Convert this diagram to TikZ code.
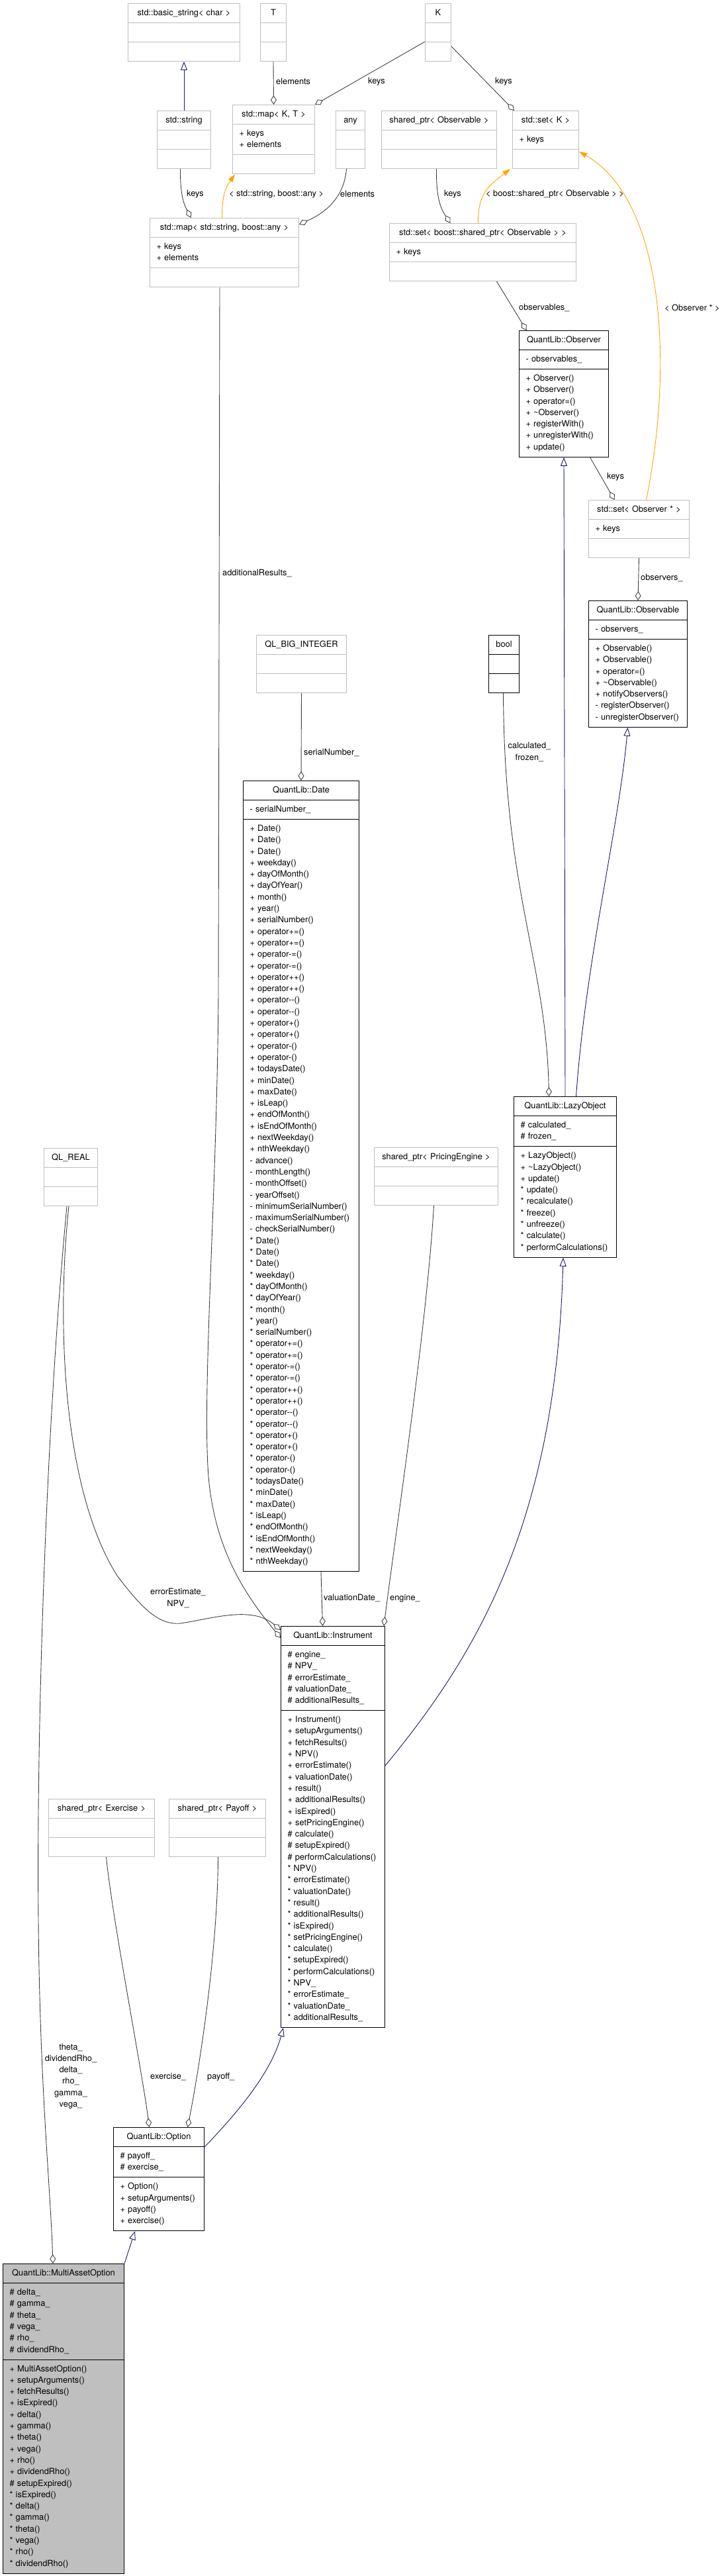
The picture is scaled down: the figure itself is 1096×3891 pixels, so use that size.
\documentclass[tikz,border=0pt]{standalone}
\usepackage{fontspec}
\setmainfont{TeX Gyre Heros}
\usepackage{tikz}
\usetikzlibrary{arrows.meta, shapes.multipart}
\definecolor{ExtGray}{HTML}{BFBFBF}
\definecolor{EdgeGray}{HTML}{404040}
\definecolor{BaseNavy}{HTML}{191970}
\definecolor{TmplOrange}{HTML}{FFA500}
\definecolor{MultiFill}{HTML}{BFBFBF}
\newcommand{\classfont}{\fontsize{12.8}{17.3}\selectfont}
\newcommand{\clsname}[1]{\makebox[\linewidth]{\strut #1}}
\newcommand{\members}[1]{\raggedright\foreach \m in {#1}{\strut\m\par}}
\newcommand{\dblminus}{-\kern0pt-}

\begin{document}
\begin{tikzpicture}[
    x=1pt, y=-1pt,
    extclass/.style={
        rectangle split, rectangle split parts=3, draw=ExtGray, line width=1pt,
        inner xsep=10pt, inner ysep=5.35pt, anchor=north west, font=\classfont
    },
    docclass/.style={
        extclass, draw=black
    },
    aggr/.style={
        draw=EdgeGray, line width=0.9pt, -{Diamond[length=14pt, width=9pt, fill=white]}
    },
    inherit/.style={
        draw=BaseNavy, line width=0.9pt, -{Triangle[length=13pt, width=10pt, fill=white]}
    },
    templ/.style={
        draw=TmplOrange, line width=0.9pt, -{Triangle[length=12pt, width=8pt]}
    },
    lbl/.style={
        font=\classfont, inner sep=0pt
    }
]
    \useasboundingbox (0,0) rectangle (1096,3891);

    % Templates and std types
    \node[extclass, text width=149pt] (basicstring) at (193,5) {\clsname{std::basic\_string< char >}\nodepart{two}\strut\nodepart{three}\strut};
    \node[extclass, text width=19pt] (templT) at (393,5) {\clsname{T}\nodepart{two}\strut\nodepart{three}\strut};
    \node[extclass, text width=19pt] (templK) at (642,5) {\clsname{K}\nodepart{two}\strut\nodepart{three}\strut};

    \node[extclass, text width=61pt] (stdstring) at (237,167) {\clsname{std::string}\nodepart{two}\strut\nodepart{three}\strut};
    \node[extclass, text width=104pt] (mapkt) at (351,158) {\clsname{std::map< K, T >}\nodepart{two}\members{+ keys, + elements}\nodepart{three}\strut};
    \node[extclass, text width=24pt] (anytype) at (507,167) {\clsname{any}\nodepart{two}\strut\nodepart{three}\strut};
    \node[extclass, text width=154pt] (ptrobservable) at (576,167) {\clsname{shared\_ptr< Observable >}\nodepart{two}\strut\nodepart{three}\strut};
    \node[extclass, text width=80pt] (setk) at (774,167) {\clsname{std::set< K >}\nodepart{two}\members{+ keys}\nodepart{three}\strut};

    \node[extclass, text width=205pt] (mapstringany) at (226,329) {\clsname{std::map< std::string, boost::any >}\nodepart{two}\members{+ keys, + elements}\nodepart{three}\strut};
    \node[extclass, text width=262pt] (setptrobs) at (588,337) {\clsname{std::set< boost::shared\_ptr< Observable > >}\nodepart{two}\members{+ keys}\nodepart{three}\strut};

    % Observer pattern
    \node[docclass, text width=115pt] (observer) at (784,499) {\clsname{QuantLib::Observer}\nodepart{two}\members{- observables\_}\nodepart{three}\members{+ Observer(), + Observer(), + operator=(), + \textasciitilde Observer(), + registerWith(), + unregisterWith(), + update()}};
    \node[extclass, text width=132pt] (setobserver) at (889,755) {\clsname{std::set< Observer * >}\nodepart{two}\members{+ keys}\nodepart{three}\strut};
    \node[docclass, text width=129pt] (observable) at (889,907) {\clsname{QuantLib::Observable}\nodepart{two}\members{- observers\_}\nodepart{three}\members{+ Observable(), + Observable(), + operator=(), + \textasciitilde Observable(), + notifyObservers(), - registerObserver(), - unregisterObserver()}};

    \node[extclass, text width=116pt] (biginteger) at (387,959) {\clsname{QL\_BIG\_INTEGER}\nodepart{two}\strut\nodepart{three}\strut};
    \node[docclass, text width=26pt] (booltype) at (738,959) {\clsname{bool}\nodepart{two}\strut\nodepart{three}\strut};

    % Date
    \node[docclass, text width=155pt] (date) at (367,1179) {\clsname{QuantLib::Date}\nodepart{two}\members{- serialNumber\_}\nodepart{three}\members{
        + Date(), + Date(), + Date(), + weekday(), + dayOfMonth(), + dayOfYear(), + month(), + year(), + serialNumber(),
        + operator+=(), + operator+=(), + operator-=(), + operator-=(), + operator++(), + operator++(),
        + operator\dblminus(), + operator\dblminus(), + operator+(), + operator+(), + operator-(), + operator-(),
        + todaysDate(), + minDate(), + maxDate(), + isLeap(), + endOfMonth(), + isEndOfMonth(), + nextWeekday(), + nthWeekday(),
        - advance(), - monthLength(), - monthOffset(), - yearOffset(), - minimumSerialNumber(), - maximumSerialNumber(), - checkSerialNumber(),
        * Date(), * Date(), * Date(), * weekday(), * dayOfMonth(), * dayOfYear(), * month(), * year(), * serialNumber(),
        * operator+=(), * operator+=(), * operator-=(), * operator-=(), * operator++(), * operator++(),
        * operator\dblminus(), * operator\dblminus(), * operator+(), * operator+(), * operator-(), * operator-(),
        * todaysDate(), * minDate(), * maxDate(), * isLeap(), * endOfMonth(), * isEndOfMonth(), * nextWeekday(), * nthWeekday()}};

    \node[docclass, text width=135pt] (lazyobject) at (776,1656) {\clsname{QuantLib::LazyObject}\nodepart{two}\members{\# calculated\_, \# frozen\_}\nodepart{three}\members{+ LazyObject(), + \textasciitilde LazyObject(), + update(), * update(), * recalculate(), * freeze(), * unfreeze(), * calculate(), * performCalculations()}};

    \node[extclass, text width=61pt] (qlreal) at (66,1734) {\clsname{QL\_REAL}\nodepart{two}\strut\nodepart{three}\strut};
    \node[extclass, text width=167pt] (ptrengine) at (565,1733) {\clsname{shared\_ptr< PricingEngine >}\nodepart{two}\strut\nodepart{three}\strut};

    % Instrument and options
    \node[docclass, text width=137pt] (instrument) at (424,2456) {\clsname{QuantLib::Instrument}\nodepart{two}\members{\# engine\_, \# NPV\_, \# errorEstimate\_, \# valuationDate\_, \# additionalResults\_}\nodepart{three}\members{
        + Instrument(), + setupArguments(), + fetchResults(), + NPV(), + errorEstimate(), + valuationDate(), + result(), + additionalResults(), + isExpired(), + setPricingEngine(),
        \# calculate(), \# setupExpired(), \# performCalculations(),
        * NPV(), * errorEstimate(), * valuationDate(), * result(), * additionalResults(), * isExpired(), * setPricingEngine(), * calculate(), * setupExpired(), * performCalculations(),
        * NPV\_, * errorEstimate\_, * valuationDate\_, * additionalResults\_}};

    \node[extclass, text width=140pt] (ptrexercise) at (73,2717) {\clsname{shared\_ptr< Exercise >}\nodepart{two}\strut\nodepart{three}\strut};
    \node[extclass, text width=126pt] (ptrpayoff) at (255,2717) {\clsname{shared\_ptr< Payoff >}\nodepart{two}\strut\nodepart{three}\strut};

    \node[docclass, text width=117pt] (option) at (171,3213) {\clsname{QuantLib::Option}\nodepart{two}\members{\# payoff\_, \# exercise\_}\nodepart{three}\members{+ Option(), + setupArguments(), + payoff(), + exercise()}};

    \node[docclass, fill=MultiFill, text width=163pt] (multiasset) at (4,3419) {\clsname{QuantLib::MultiAssetOption}\nodepart{two}\members{\# delta\_, \# gamma\_, \# theta\_, \# vega\_, \# rho\_, \# dividendRho\_}\nodepart{three}\members{
        + MultiAssetOption(), + setupArguments(), + fetchResults(), + isExpired(), + delta(), + gamma(), + theta(), + vega(), + rho(), + dividendRho(),
        \# setupExpired(), * isExpired(), * delta(), * gamma(), * theta(), * vega(), * rho(), * dividendRho()}};

    % Inheritance
    \draw[inherit] (stdstring.north) -- (basicstring.south);
    \draw[inherit] (lazyobject.north) -- (observer.south);
    \draw[inherit] ([xshift=16.5pt]lazyobject.north) .. controls (885,1450) and (935,1250) .. ([xshift=-15.5pt]observable.south);
    \draw[inherit] ([yshift=-211pt]instrument.north east) .. controls (720,2500) and (840,2300) .. ([xshift=-3pt]lazyobject.south);
    \draw[inherit] ([yshift=-30pt]option.north east) .. controls (360,3190) and (410,3130) .. ([xshift=4pt]instrument.south west);
    \draw[inherit] (multiasset.north east) -- ([xshift=33pt]option.south west);

    % Template instances
    \draw[templ] ([xshift=-3.5pt]mapstringany.north) .. controls (335,285) and (347,275) .. ([xshift=4pt]mapkt.south west);
    \draw[templ] ([xshift=-7pt]setptrobs.north) .. controls (722,290) and (740,280) .. ([xshift=-3pt]setk.south west);
    \draw[templ] ([xshift=11pt]setobserver.north) .. controls (1020,540) and (1000,300) .. ([yshift=26pt]setk.south east);

    % Members
    \draw[aggr] (templT.south) -- (mapkt.north);
    \draw[aggr] ([yshift=-14pt]templK.west) -- (mapkt.north east);
    \draw[aggr] ([yshift=-21pt]templK.east) -- ([xshift=3pt]setk.north west);
    \draw[aggr] ([xshift=-5.5pt]stdstring.south) .. controls (272,300) and (280,312) .. ([xshift=-50.5pt]mapstringany.north);
    \draw[aggr] ([xshift=-6pt]anytype.south) .. controls (520,300) and (490,322) .. ([yshift=-10pt]mapstringany.north east);
    \draw[aggr] ([xshift=-4pt]ptrobservable.south) .. controls (659,300) and (666,315) .. ([xshift=-49pt]setptrobs.north);
    \draw[aggr] ([xshift=21pt]setptrobs.south) -- ([xshift=-56.5pt]observer.north);
    \draw[aggr] ([xshift=39.5pt]observer.south) -- ([xshift=-37pt]setobserver.north);
    \draw[aggr] (setobserver.south) -- (observable.north);
    \draw[aggr] ([xshift=-1pt]booltype.south) .. controls (762,1350) and (825,1450) .. ([xshift=-24.5pt]lazyobject.north);
    \draw[aggr] (biginteger.south) -- (date.north);
    \draw[aggr] ([xshift=-7pt]mapstringany.south) -- (330,1500) .. controls (328,1800) and (305,2100) .. (315,2230) .. controls (325,2350) and (380,2420) .. ([yshift=-18pt]instrument.north west);
    \draw[aggr] ([xshift=-3pt]qlreal.south) .. controls (85,2000) and (95,2250) .. (177,2380) .. controls (215,2430) and (240,2455) .. (273,2452) .. controls (320,2445) and (380,2425) .. ([yshift=-6pt]instrument.north west);
    \draw[aggr] ([xshift=-6pt]qlreal.south) .. controls (70,2150) and (55,2600) .. (58,2900) .. controls (60,3150) and (76,3300) .. ([xshift=-16pt]multiasset.north);
    \draw[aggr] ([xshift=30pt]date.south) -- ([xshift=-15.5pt]instrument.north);
    \draw[aggr] ([xshift=-3.5pt]ptrengine.south) .. controls (645,2000) and (600,2300) .. ([xshift=-2pt]instrument.north east);
    \draw[aggr] ([xshift=7pt]ptrexercise.south) .. controls (170,2900) and (215,3130) .. ([xshift=-14.5pt]option.north);
    \draw[aggr] ([xshift=1pt]ptrpayoff.south) .. controls (329,2950) and (300,3130) .. ([xshift=43.5pt]option.north);

    % Labels
    \node[lbl, anchor=west] (lbtelements) at (417,123) {elements};
    \node[lbl] (lbkmap) at (569,123) {keys};
    \node[lbl] (lbkset) at (761,123) {keys};
    \node[lbl, anchor=west] (lbstringkeys) at (282,293) {keys};
    \node[lbl, anchor=west] (lbmapinst) at (346,293) {< std::string, boost::any >};
    \node[lbl, anchor=west] (lbanyelements) at (514,293) {elements};
    \node[lbl, anchor=west] (lbptrkeys) at (671,293) {keys};
    \node[lbl, anchor=west] (lbsetinst) at (734,293) {< boost::shared\_ptr< Observable > >};
    \node[lbl, anchor=west] (lbobservables) at (784,465) {observables\_};
    \node[lbl, anchor=west] (lbobserverinst) at (1004,465) {< Observer * >};
    \node[lbl, anchor=west] (lbsetkeys) at (917,720) {keys};
    \node[lbl, anchor=west] (lbobservers) at (968,873) {observers\_};
    \node[lbl, anchor=west] (lbaddresults) at (336,866) {additionalResults\_};
    \node[lbl, align=center] (lbcalculated) at (800,1136) {calculated\_\\frozen\_};
    \node[lbl, anchor=west] (lbserial) at (459,1137) {serialNumber\_};
    \node[lbl, align=center] (lberrornpv) at (269,2414) {errorEstimate\_\\NPV\_};
    \node[lbl, anchor=west] (lbvaluation) at (489,2414) {valuationDate\_};
    \node[lbl, anchor=west] (lbengine) at (589,2414) {engine\_};
    \node[lbl, anchor=west] (lbexercise) at (227,3137) {exercise\_};
    \node[lbl, anchor=west] (lbpayoff) at (313,3137) {payoff\_};
    \node[lbl, align=center] (lbgreeks) at (107,3136) {theta\_\\dividendRho\_\\delta\_\\rho\_\\gamma\_\\vega\_};

\end{tikzpicture}
\end{document}
